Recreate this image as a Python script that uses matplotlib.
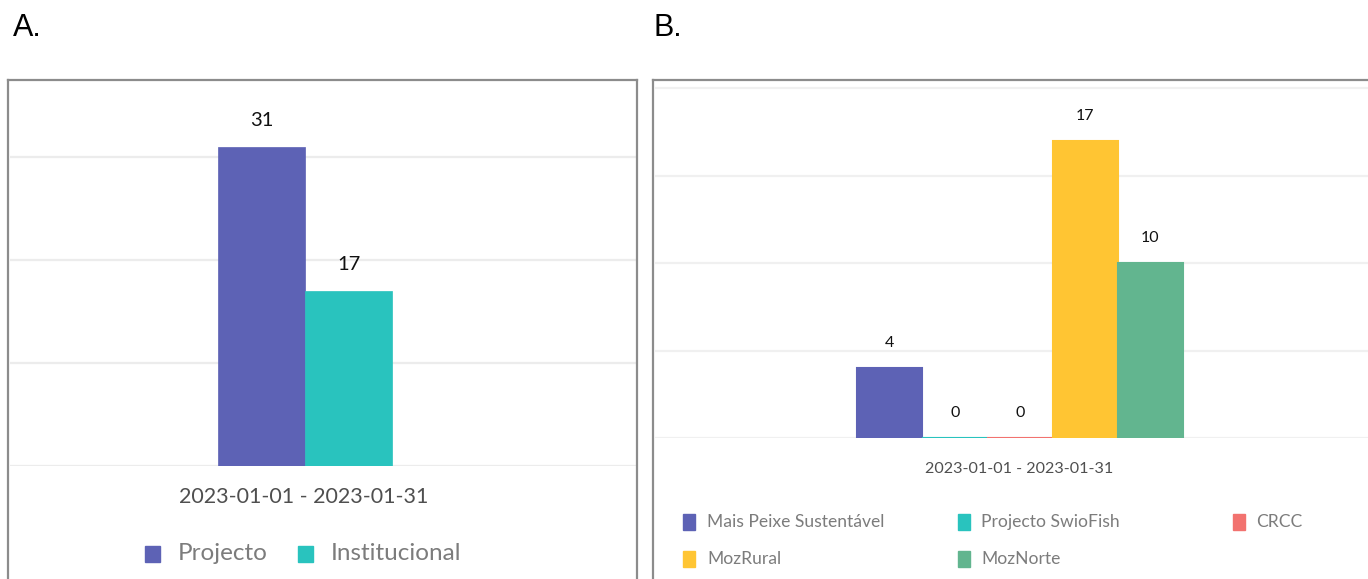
import matplotlib
matplotlib.use("Agg")
import matplotlib.pyplot as plt
from matplotlib.patches import Rectangle
from matplotlib.lines import Line2D

# ---------------- data ----------------
period = "2023-01-01 - 2023-01-31"

a_series = ["Projecto", "Institucional"]
a_values = [31, 17]
a_colors = ["#5D62B5", "#29C3BE"]

b_series = ["Mais Peixe Sustentável", "Projecto SwioFish", "CRCC", "MozRural", "MozNorte"]
b_values = [4, 0, 0, 17, 10]
b_colors = ["#5D62B5", "#29C3BE", "#F2726F", "#FFC533", "#62B58F"]

a_grid = [0, 10, 20, 30]
b_grid = [0, 5, 10, 15, 20]

# ---------------- layout helpers ----------------
W, H = 1368, 579
fig = plt.figure(figsize=(W / 100, H / 100), dpi=100)
FONT = "Lato"


def fx(x):
    return x / W


def fy(y):
    return 1 - y / H


def add_axes_px(left, right, top, bottom):
    return fig.add_axes([fx(left), fy(bottom), (right - left) / W, (bottom - top) / H])


def style_axes(ax, grid, gcolor):
    ax.set_yticks(grid)
    ax.set_xticks([])
    ax.tick_params(left=False, labelleft=False, bottom=False, labelbottom=False)
    for s in ax.spines.values():
        s.set_visible(False)
    ax.grid(axis="y", color=gcolor, linewidth=1.6)
    ax.set_axisbelow(True)
    ax.patch.set_alpha(0)


# panel boxes
for (x0, x1) in [(8, 637), (653, 1372)]:
    for xs, ys in [([x0, x0], [600, 80]), ([x0, x1], [80, 80]), ([x1, x1], [80, 600])]:
        fig.add_artist(Line2D([fx(v) for v in xs], [fy(v) for v in ys], color="#8c8c8c",
                              lw=1.6, transform=fig.transFigure))

# panel titles
fig.text(fx(13), fy(28), "A.", fontsize=22, family="Liberation Sans", va="center", ha="left")
fig.text(fx(654), fy(28), "B.", fontsize=22, family="Liberation Sans", va="center", ha="left")

# ---------------- panel A ----------------
axA = add_axes_px(10, 636, 81, 466)
pxA = 217.5           # pixels per x unit
wA = 0.4
axA.set_xlim((10 - 305) / pxA, (636 - 305) / pxA)
axA.set_ylim(0, (466 - 81) / 10.3)
style_axes(axA, a_grid, "#ececec")
nA = len(a_values)
for i, (v, c) in enumerate(zip(a_values, a_colors)):
    xpos = (i - (nA - 1) / 2) * wA
    axA.bar(xpos, v, width=wA, color=c, edgecolor=c, linewidth=0.5)
    axA.annotate(str(v), (xpos, v), xytext=(0, 19), textcoords="offset points",
                 ha="center", va="center", fontsize=14.5, family=FONT, color="#111111")

fig.text(fx(304), fy(497), period, ha="center", va="center", fontsize=15.5,
         family=FONT, color="#4f4f4f")

# legend A (manual placement)
leg_a = [(145, 178), (298, 331)]
for (sx, tx), name, c in zip(leg_a, a_series, a_colors):
    fig.add_artist(Rectangle((fx(sx), fy(562)), 15 / W, 16 / H, color=c,
                             transform=fig.transFigure))
    fig.text(fx(tx), fy(553), name, ha="left", va="center", fontsize=17.5,
             family=FONT, color="#7c7c7c")

# ---------------- panel B ----------------
axB = add_axes_px(655, 1368, 81, 438)
pxB = 407.5
wB = 0.16
axB.set_xlim((655 - 1020) / pxB, (1368 - 1020) / pxB)
axB.set_ylim(0, (438 - 81) / 17.5)
style_axes(axB, b_grid, "#f0f0f0")
nB = len(b_values)
for i, (v, c) in enumerate(zip(b_values, b_colors)):
    xpos = (i - (nB - 1) / 2) * wB
    axB.bar(xpos, v, width=wB, color=c, edgecolor=c, linewidth=1.5)
    axB.annotate(str(v), (xpos, v), xytext=(0, 18), textcoords="offset points",
                 ha="center", va="center", fontsize=11.5, family=FONT, color="#111111")

fig.text(fx(1019), fy(469), period, ha="center", va="center", fontsize=11.6,
         family=FONT, color="#4f4f4f")

# legend B (manual placement, row-wise)
leg_b = [(683, 707, 522), (958, 981, 522), (1233, 1256, 522),
         (683, 707, 559), (958, 981, 559)]
for (sx, tx, ty), name, c in zip(leg_b, b_series, b_colors):
    fig.add_artist(Rectangle((fx(sx), fy(ty + 8)), 12 / W, 16 / H, color=c,
                             transform=fig.transFigure))
    fig.text(fx(tx), fy(ty), name, ha="left", va="center", fontsize=12.6,
             family=FONT, color="#7c7c7c")

fig.savefig("out.png", dpi=100)
